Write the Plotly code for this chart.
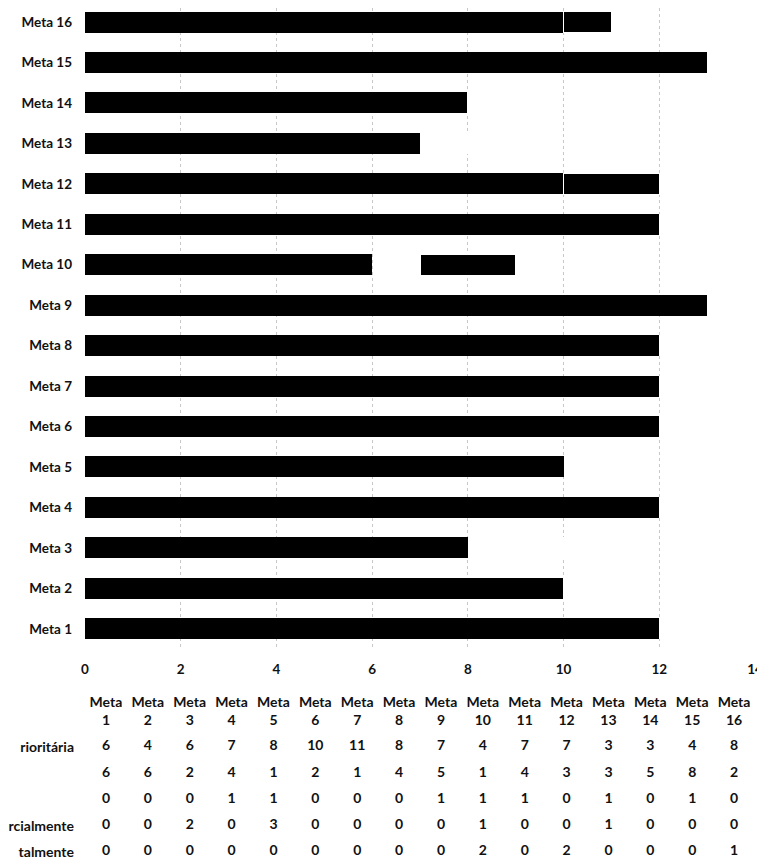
"""Metas: stacked horizontal bars with data table underneath."""
import plotly.graph_objects as go

METAS = [f"Meta {i}" for i in range(1, 17)]
# row labels as they show in the (left-cropped) scan
ROW_LABELS = ["rioritária", "", "", "rcialmente", "talmente"]

prioritaria = [6, 4, 6, 7, 8, 10, 11, 8, 7, 4, 7, 7, 3, 3, 4, 8]
serie_2 = [6, 6, 2, 4, 1, 2, 1, 4, 5, 1, 4, 3, 3, 5, 8, 2]
serie_3 = [0, 0, 0, 1, 1, 0, 0, 0, 1, 1, 1, 0, 1, 0, 1, 0]
parcialmente = [0, 0, 2, 0, 3, 0, 0, 0, 0, 1, 0, 0, 1, 0, 0, 0]
totalmente = [0, 0, 0, 0, 0, 0, 0, 0, 0, 2, 0, 2, 0, 0, 0, 1]

SERIES = [prioritaria, serie_2, serie_3, parcialmente, totalmente]
BAR_COLORS = ["#000000", "#000000", "#000000", "rgba(0,0,0,0)", "#000000"]
X_MAX = 14
FONT = "Lato"
# page body has an 8px margin, so the figure is 8px smaller than the window
W, H = 757, 858

fig = go.Figure()

for vals, color, name in zip(SERIES, BAR_COLORS, ROW_LABELS):
    edge = dict(color="white", width=1) if name == "talmente" else dict(width=0)
    fig.add_trace(go.Bar(y=METAS, x=vals, orientation="h", name=name,
                         marker=dict(color=color, line=edge), showlegend=False))

# data table as text on its own axes, columns spread over the same x range
col_w = X_MAX / len(METAS)
centers = [(i + 0.5) * col_w for i in range(len(METAS))]
table_font = dict(family=FONT, size=14, color="#111", weight="bold")
fig.add_trace(go.Scatter(x=centers, y=[-0.31] * len(METAS), mode="text",
                         text=[m.replace(" ", "<br>") for m in METAS],
                         textfont=table_font, cliponaxis=False,
                         xaxis="x2", yaxis="y2", showlegend=False, hoverinfo="skip"))
for r, vals in enumerate(SERIES, start=1):
    fig.add_trace(go.Scatter(x=centers, y=[r] * len(vals), mode="text",
                             text=[str(v) for v in vals], textfont=table_font,
                             cliponaxis=False, xaxis="x2", yaxis="y2",
                             showlegend=False, hoverinfo="skip"))

fig.update_layout(
    width=W, height=H,
    margin=dict(l=66, r=10, t=0, b=0),
    barmode="stack", bargap=0.48,
    plot_bgcolor="white", paper_bgcolor="white",
    font=dict(family=FONT, size=13, color="#111"),
    xaxis=dict(range=[0, X_MAX], dtick=2, showgrid=True, gridcolor="#c8c8c8",
               griddash="dot", gridwidth=1, zeroline=False, showline=False,
               ticklabelstandoff=10,
               tickfont=dict(family=FONT, size=13.5, weight="bold"), anchor="y"),
    yaxis=dict(domain=[(H - 641) / H, 1], range=[-0.5, 15.347],
               showgrid=False, showline=False, ticks="", ticklabelstandoff=12,
               tickfont=dict(family=FONT, size=13.5, weight="bold")),
    xaxis2=dict(range=[0, X_MAX], visible=False, anchor="y2"),
    yaxis2=dict(domain=[(H - 857.1) / H, (H - 681.25) / H], range=[5.5, -1.2],
                anchor="x2", tickvals=[1, 2, 3, 4, 5], ticktext=ROW_LABELS,
                showgrid=False, zeroline=False, showline=False, ticks="",
                ticklabelstandoff=10,
                tickfont=dict(family=FONT, size=14, weight="bold")),
    hovermode=False,
)

fig.write_html("out.html")
